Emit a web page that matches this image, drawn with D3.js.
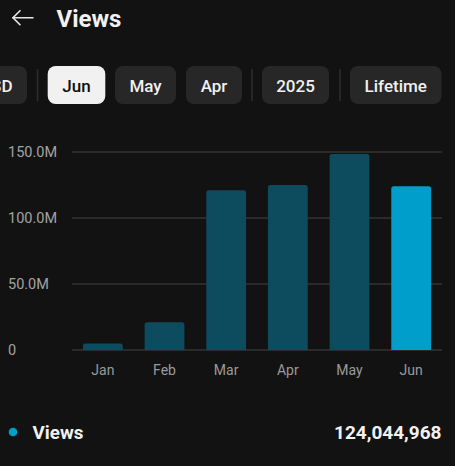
<!DOCTYPE html>
<html><head><meta charset="utf-8">
<script src="https://cdn.jsdelivr.net/npm/d3@7"></script>
<style>
html,body{margin:0;padding:0;background:#121212;}
svg{display:block;font-family:Roboto,"Noto Sans",sans-serif;}
</style></head>
<body>
<svg id="c" width="455" height="466"></svg>
<script>
const months = ["Jan","Feb","Mar","Apr","May","Jun"];
const views = [5000000, 21000000, 121000000, 125000000, 148500000, 124044968];
const yTicks = [0, 50000000, 100000000, 150000000];
const yTickLabels = ["0","50.0M","100.0M","150.0M"];
const chips = ["SD","Jun","May","Apr","2025","Lifetime"];
const selectedMonth = "Jun";
const totalLabel = "124,044,968";

const svg = d3.select("#c");
svg.append("rect").attr("width",455).attr("height",466).attr("fill","#121212");

// Header
const arrow = svg.append("g").attr("stroke","#e8e8e8").attr("stroke-width",1.6).attr("fill","none").attr("stroke-linecap","round");
arrow.append("line").attr("x1",13).attr("y1",17.7).attr("x2",33).attr("y2",17.7);
arrow.append("polyline").attr("points","20,10.7 13,17.7 20,24.7");
svg.append("text").attr("x",56.5).attr("y",26.5).attr("fill","#f1f1f1")
  .attr("font-size",24).attr("font-weight",700).text("Views");

// Chips
const chipDefs = [
  {t:"SD", x0:-40, x1:27},
  {t:"Jun", x0:47.7, x1:105.3},
  {t:"May", x0:115, x1:176},
  {t:"Apr", x0:186, x1:242},
  {t:"2025", x0:262, x1:329},
  {t:"Lifetime", x0:350, x1:441.5}
];
chipDefs.forEach((c,i)=>{
  const sel = chips[i]===selectedMonth;
  svg.append("rect").attr("x",c.x0).attr("y",66).attr("width",c.x1-c.x0).attr("height",38)
    .attr("rx",8).attr("fill", sel ? "#f1f1f1" : "#272727");
  const t = svg.append("text").attr("y",91.5)
    .attr("font-size",17).attr("font-weight",500)
    .attr("fill", sel ? "#0f0f0f" : "#f1f1f1").text(chips[i]);
  if (i===0) t.attr("x",12.5).attr("text-anchor","end");
  else t.attr("x",(c.x0+c.x1)/2).attr("text-anchor","middle");
});
[37.5, 252, 340].forEach(x=>{
  svg.append("line").attr("x1",x).attr("x2",x).attr("y1",69).attr("y2",101)
    .attr("stroke","#2e2e2e").attr("stroke-width",1.5);
});

// Chart
const x = d3.scaleBand().domain(months).range([72,442]).paddingInner(0.355).paddingOuter(0.1775);
const y = d3.scaleLinear().domain([0,150000000]).range([350,152]);

const grid = svg.append("g");
yTicks.forEach((t,i)=>{
  grid.append("line").attr("x1",72).attr("x2",442).attr("y1",y(t)).attr("y2",y(t))
    .attr("stroke", "#333333").attr("stroke-width",1.3);
  grid.append("text").attr("x",8).attr("y",y(t)).attr("dy","0.36em")
    .attr("font-size",14.5).attr("fill","#a3a3a3").text(yTickLabels[i]);
});

svg.append("g").selectAll("path").data(months).join("path")
  .attr("fill", m => m===selectedMonth ? "#009fcb" : "#0d4c5e")
  .attr("d", (m,i)=>{
    const x0 = x(m), w = x.bandwidth(), top = y(views[i]), bot = y(0), r = Math.min(2.5, (bot-top)/2);
    return `M${x0},${bot}V${top+r}Q${x0},${top} ${x0+r},${top}H${x0+w-r}Q${x0+w},${top} ${x0+w},${top+r}V${bot}Z`;
  });

const xAxis = svg.append("g").attr("transform","translate(0,350)")
  .call(d3.axisBottom(x).tickSize(0).tickPadding(0));
xAxis.select(".domain").remove();
xAxis.selectAll("text").attr("y",25).attr("dy",0).attr("font-size",14)
  .attr("font-family","Roboto,'Noto Sans',sans-serif").attr("fill","#9a9a9a");

// Legend
svg.append("circle").attr("cx",13).attr("cy",432).attr("r",4.3).attr("fill","#009fcb");
svg.append("text").attr("x",32.5).attr("y",438.5).attr("font-size",18.8).attr("font-weight",700)
  .attr("fill","#f1f1f1").text("Views");
svg.append("text").attr("x",441.5).attr("y",438.5).attr("text-anchor","end").attr("font-size",19)
  .attr("font-weight",700).attr("fill","#f1f1f1").text(totalLabel);
</script>
</body></html>
